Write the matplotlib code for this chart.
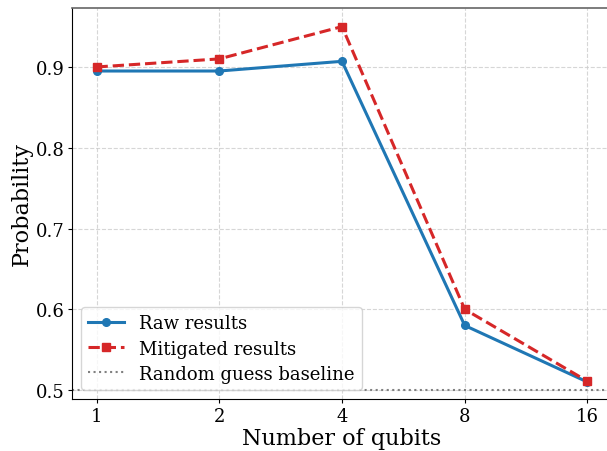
import numpy as np
import matplotlib
matplotlib.use('Agg')
import matplotlib.pyplot as plt

plt.rcParams['font.family'] = 'DejaVu Serif'

qubits = ['1', '2', '4', '8', '16']
raw = [0.895, 0.895, 0.907, 0.58, 0.51]
mitigated = [0.90, 0.91, 0.95, 0.60, 0.511]
baseline = 0.5

fig = plt.figure(figsize=(6.07, 4.52), dpi=100)
ax = fig.add_axes([72/607, 52/452, 540/607, 391/452])

x = np.arange(len(qubits))
ax.plot(x, raw, '-o', color='#1f77b4', lw=2.2, ms=5.5, label='Raw results')
ax.plot(x, mitigated, '--s', color='#d62728', lw=2.2, ms=5.5, label='Mitigated results')
ax.axhline(baseline, color='gray', ls=':', lw=1.5, label='Random guess baseline')

ax.set_xticks(x)
ax.set_xticklabels(qubits)
ax.set_yticks([0.5, 0.6, 0.7, 0.8, 0.9])
ax.set_xlim(-0.2, 4.2)
ax.set_ylim(0.489, 0.973)
ax.tick_params(labelsize=13, length=3, pad=2.5)
ax.set_xlabel('Number of qubits', fontsize=16, labelpad=2)
ax.set_ylabel('Probability', fontsize=16, labelpad=2)
ax.grid(True, ls='--', color='#cccccc', lw=0.8, alpha=0.8)

for s in ['top', 'right']:
    ax.spines[s].set_color('#666666')
    ax.spines[s].set_linewidth(1.2)

ax.legend(loc='lower left', fontsize=13, framealpha=0.8, labelspacing=0.4)

fig.savefig('out.png', dpi=100)
